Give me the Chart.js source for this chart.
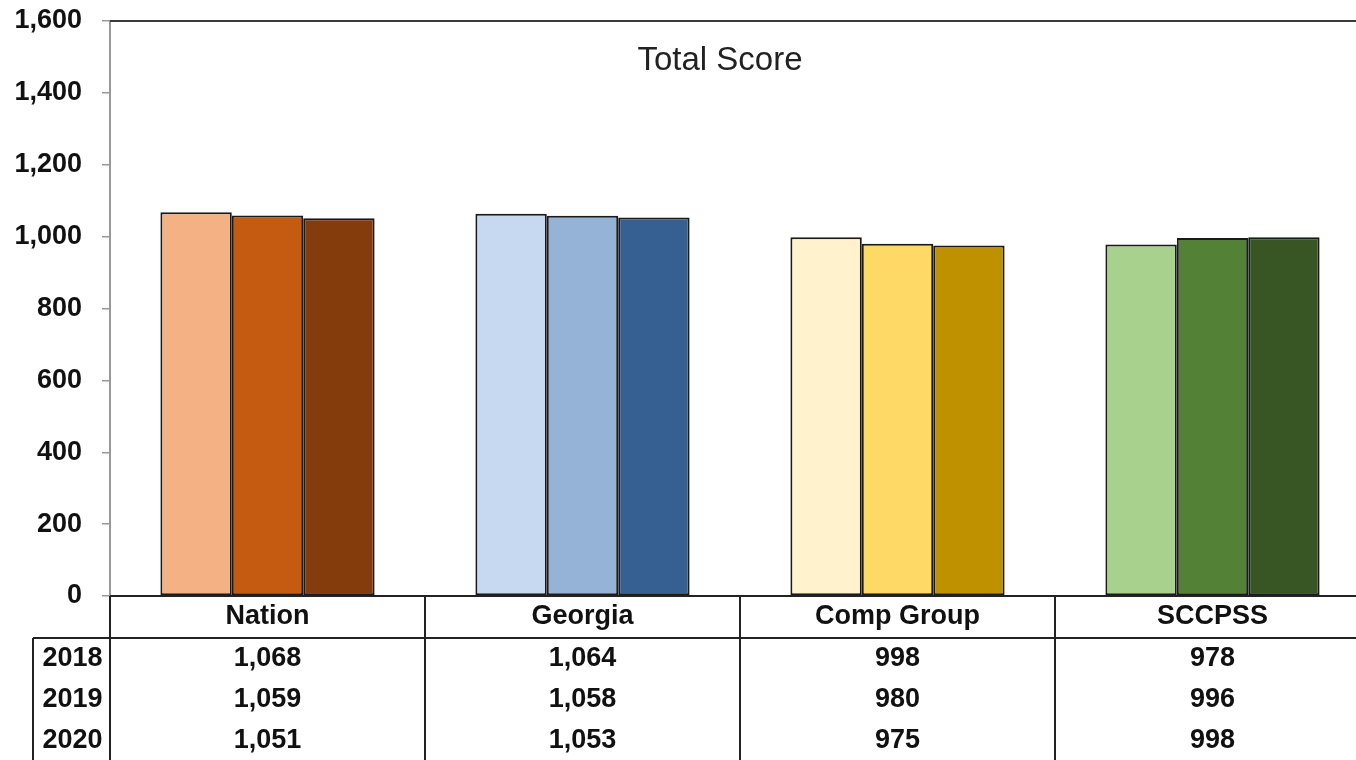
<!DOCTYPE html>
<html>
<head>
<meta charset="utf-8">
<script src="https://cdn.jsdelivr.net/npm/chart.js@4/dist/chart.umd.min.js"></script>
<style>
  html, body { margin: 0; padding: 0; background: #fff; overflow: hidden; }
  #wrap { width: 1372px; height: 760px; position: relative; }
</style>
</head>
<body>
<div id="wrap"><canvas id="c" width="1372" height="760"></canvas></div>
<script>
const categories = ['Nation', 'Georgia', 'Comp Group', 'SCCPSS'];
const years = ['2018', '2019', '2020'];
const values2018 = [1068, 1064, 998, 978];
const values2019 = [1059, 1058, 980, 996];
const values2020 = [1051, 1053, 975, 998];
const yTicks = [0, 200, 400, 600, 800, 1000, 1200, 1400, 1600];
const colors2018 = ['#F4B183', '#C6D9F1', '#FFF2CC', '#A9D18E'];
const colors2019 = ['#C55A11', '#95B3D7', '#FFD966', '#538135'];
const colors2020 = ['#843C0C', '#366092', '#BF9000', '#375623'];
const chartTitle = 'Total Score';

const seriesValues = [values2018, values2019, values2020];
const seriesColors = [colors2018, colors2019, colors2020];

const fmt = v => v.toLocaleString('en-US');
const FONT = '"Liberation Sans", Arial, sans-serif';

const tablePlugin = {
  id: 'tablePlugin',
  afterDraw(chart) {
    const ctx = chart.ctx;
    const area = chart.chartArea;
    const xs = chart.scales.x;
    const n = categories.length;
    const catW = (area.right - area.left) / n;
    const top = area.bottom;
    const headerBottom = top + 42;
    const bottom = chart.height;
    const leftCol = 33;
    ctx.save();
    // top border
    ctx.strokeStyle = '#3a3a3a';
    ctx.lineWidth = 2;
    ctx.beginPath();
    ctx.moveTo(area.left, area.top);
    ctx.lineTo(area.right, area.top);
    ctx.stroke();
    // table lines
    ctx.strokeStyle = '#222';
    ctx.lineWidth = 2;
    ctx.beginPath();
    ctx.moveTo(area.left, top);
    ctx.lineTo(area.right, top);
    ctx.moveTo(leftCol, headerBottom);
    ctx.lineTo(area.right, headerBottom);
    for (let i = 0; i <= n; i++) {
      const x = Math.round(area.left + i * catW);
      ctx.moveTo(x, top);
      ctx.lineTo(x, bottom);
    }
    ctx.moveTo(leftCol, headerBottom);
    ctx.lineTo(leftCol, bottom);
    ctx.stroke();
    // header text
    ctx.fillStyle = '#111';
    ctx.textAlign = 'center';
    ctx.textBaseline = 'middle';
    ctx.font = 'bold 27px ' + FONT;
    categories.forEach((c, i) => {
      ctx.fillText(c, xs.getPixelForValue(i), top + 21);
    });
    const rowYs = [headerBottom + 21, headerBottom + 62, headerBottom + 103];
    years.forEach((y, r) => {
      ctx.font = 'bold 27px ' + FONT;
      ctx.fillText(y, (leftCol + area.left) / 2 + 1, rowYs[r]);
      seriesValues[r].forEach((v, i) => {
        ctx.fillText(fmt(v), xs.getPixelForValue(i), rowYs[r]);
      });
    });
    // title
    ctx.font = '33px ' + FONT;
    ctx.fillStyle = '#222';
    ctx.textBaseline = 'alphabetic';
    ctx.fillText(chartTitle, 720, 70);
    ctx.restore();
  }
};

new Chart(document.getElementById('c'), {
  type: 'bar',
  data: {
    labels: categories,
    datasets: years.map((y, i) => ({
      label: y,
      data: seriesValues[i],
      backgroundColor: seriesColors[i],
      borderColor: '#1a1a1a',
      borderWidth: 2,
      borderSkipped: false
    }))
  },
  options: {
    responsive: false,
    animation: false,
    layout: { padding: { top: 21, bottom: 164, right: 2, left: 0 } },
    plugins: { legend: { display: false }, title: { display: false }, tooltip: { enabled: false } },
    datasets: { bar: { categoryPercentage: 0.68, barPercentage: 1.0 } },
    scales: {
      x: {
        display: false,
        offset: true
      },
      y: {
        min: 0,
        max: 1600,
        afterFit(scale) { scale.width = 110; scale.paddingTop = 0; scale.paddingBottom = 0; },
        afterBuildTicks(scale) { scale.ticks = yTicks.map(v => ({ value: v })); },
        ticks: {
          font: { family: FONT, size: 27, weight: 'bold' },
          color: '#111',
          padding: 20,
          callback: v => fmt(v)
        },
        grid: { drawOnChartArea: false, drawTicks: true, tickLength: 8, color: '#999', lineWidth: 1.5 },
        border: { display: true, color: '#999', width: 2 }
      }
    }
  },
  plugins: [tablePlugin]
});
</script>
</body>
</html>
